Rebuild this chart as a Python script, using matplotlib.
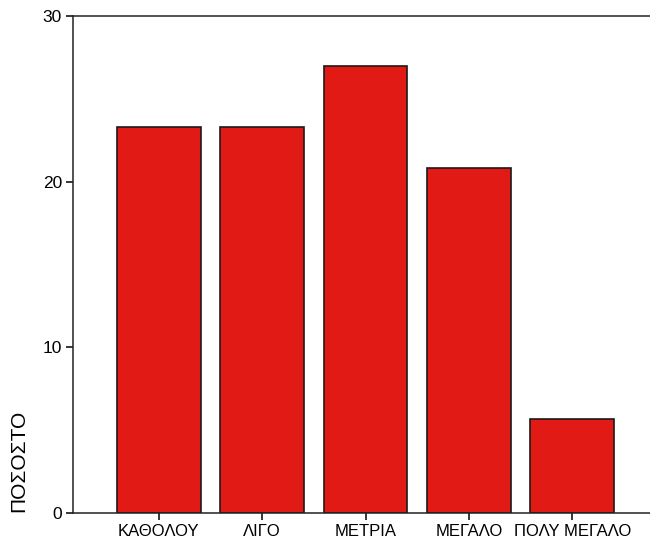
import matplotlib.pyplot as plt

# data
categories = ['ΚΑΘΟΛΟΥ', 'ΛΙΓΟ', 'ΜΕΤΡΙΑ', 'ΜΕΓΑΛΟ', 'ΠΟΛΥ ΜΕΓΑΛΟ']
percent = [23.3, 23.3, 27.0, 20.8, 5.7]
y_ticks = [0, 10, 20, 30]

plt.rcParams['font.family'] = ['Liberation Sans', 'DejaVu Sans']

fig = plt.figure(figsize=(6.5, 5.39), dpi=100)
# right edge runs past the picture, as in the scan
ax = fig.add_axes([73 / 650, 26 / 539, 585 / 650, 497 / 539])

x = list(range(len(categories)))
ax.bar(x, percent, width=0.81, color='#e21a16', edgecolor='#1a1a1a', linewidth=1.2)

ax.set_xlim(-0.83, 4.83)
ax.set_ylim(0, 30)
ax.set_yticks(y_ticks)
ax.set_xticks(x)
ax.set_xticklabels(categories, fontsize=12)
ax.tick_params(axis='y', labelsize=12.5, length=5, width=1.1, pad=3)
ax.tick_params(axis='x', length=5, width=1.1, pad=3)

for side in ['left', 'top', 'bottom']:
    ax.spines[side].set_linewidth(1.1)
    ax.spines[side].set_color('#222222')
ax.spines['right'].set_visible(False)

ax.set_ylabel('ΠΟΣΟΣΤΟ', fontsize=15)
ax.yaxis.set_label_coords(-0.077, 0.105)

fig.savefig('out.png', dpi=100)
